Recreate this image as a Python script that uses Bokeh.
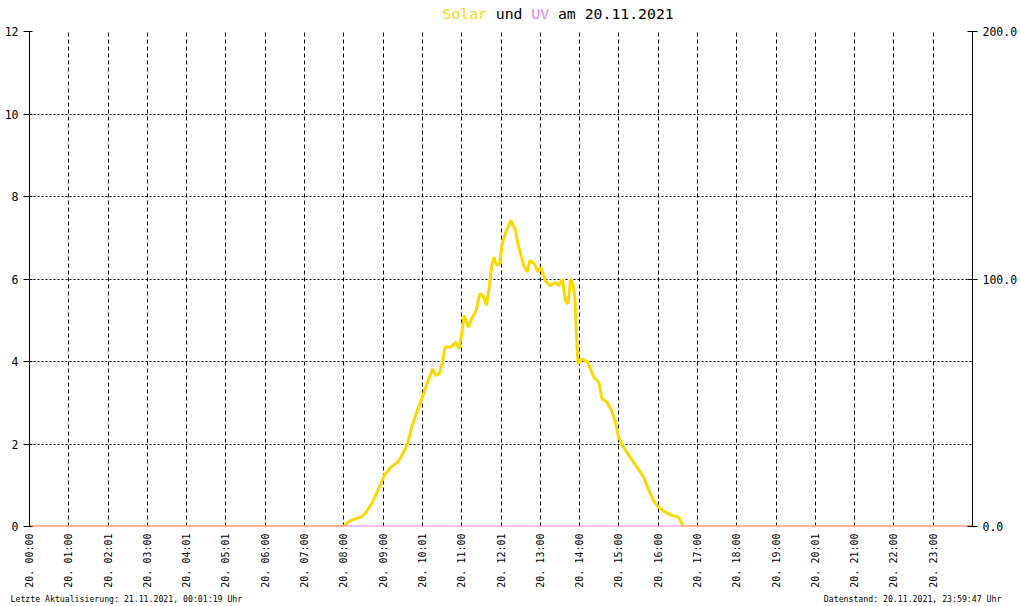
import math
from bokeh.plotting import figure
from bokeh.models import Range1d, LinearAxis, FixedTicker
from bokeh.layouts import column
from bokeh.core.properties import value
from bokeh.embed import file_html
from bokeh.resources import INLINE

# ---- data ----
tick_labels = ["20. 00:00", "20. 01:00", "20. 02:01", "20. 03:00", "20. 04:01", "20. 05:01",
               "20. 06:00", "20. 07:00", "20. 08:00", "20. 09:00", "20. 10:01", "20. 11:00",
               "20. 12:01", "20. 13:00", "20. 14:00", "20. 15:00", "20. 16:00", "20. 17:00",
               "20. 18:00", "20. 19:00", "20. 20:01", "20. 21:00", "20. 22:00", "20. 23:00"]

# time in hours of 20.11.2021
solar_time = [0.0, 7.95, 8.02, 8.14, 8.30, 8.44, 8.57, 8.73, 8.90, 9.03, 9.20, 9.37, 9.50,
              9.62, 9.73, 9.84, 10.00, 10.13, 10.26, 10.34, 10.43, 10.51, 10.58, 10.72,
              10.85, 10.93, 11.00, 11.06, 11.17, 11.27, 11.37, 11.46, 11.54, 11.63, 11.70,
              11.76, 11.82, 11.89, 11.97, 12.03, 12.12, 12.25, 12.37, 12.41, 12.50, 12.58,
              12.67, 12.73, 12.84, 12.95, 13.01, 13.13, 13.26, 13.39, 13.47, 13.56, 13.64,
              13.71, 13.77, 13.83, 13.88, 13.92, 13.96, 14.06, 14.21, 14.36, 14.49, 14.57,
              14.70, 14.82, 14.91, 14.99, 15.12, 15.29, 15.46, 15.63, 15.75, 15.88, 16.01,
              16.18, 16.35, 16.52, 16.60, 16.64, 23.996]
# solar radiation in W/m2 (right axis)
solar_wm2 = [0.0, 0.0, 0.3, 2.2, 3.2, 3.8, 5.8, 9.8, 15.8, 20.7, 24.0, 26.0, 29.3,
             33.3, 40.2, 45.5, 52.2, 58.3, 63.7, 61.0, 61.7, 66.3, 72.5, 72.5,
             74.5, 71.8, 77.8, 85.3, 80.5, 84.5, 87.3, 94.0, 93.3, 89.3, 96.7,
             104.8, 108.8, 105.5, 106.2, 114.2, 118.8, 123.7, 119.7, 115.5, 110.2, 105.5,
             102.8, 107.5, 106.2, 102.8, 104.8, 99.3, 97.3, 98.7, 97.3, 100.0, 91.3,
             90.0, 100.0, 98.0, 92.7, 77.8, 65.7, 67.7, 66.3, 60.3, 58.3, 51.7,
             50.2, 46.8, 42.2, 36.2, 32.0, 28.0, 24.0, 20.0, 15.2, 10.5, 7.8,
             5.8, 4.5, 3.8, 1.2, 0.0, 0.0]

uv_time = [0.0, 23.996]
uv_index = [0.0, 0.0]

left_ticks = [0, 2, 4, 6, 8, 10, 12]
right_ticks = [0, 100, 200]
right_tick_labels = ["0.0", "100.0", "200.0"]

title_words = ["Solar", "und", "UV", "am 20.11.2021"]
title_colors = ["#FFD700", "black", "#EE82EE", "black"]
footer_left = "Letzte Aktualisierung: 21.11.2021, 00:01:19 Uhr"
footer_right = "Datenstand: 20.11.2021, 23:59:47 Uhr"

MONO = "DejaVu Sans Mono"
W = 1020
NB = "\u00a0"

# ---- title strip (its frame is aligned with the main frame: 29 .. 975 px) ----
t_fig = figure(width=W, height=23, output_backend="svg", toolbar_location=None,
               x_range=Range1d(29, 975), y_range=Range1d(0, 23),
               x_axis_location=None, y_axis_location=None,
               min_border_left=0, min_border_right=0, min_border_top=0, min_border_bottom=0,
               background_fill_color="white", border_fill_color="white")
t_fig.outline_line_color = None
t_fig.xgrid.visible = False
t_fig.ygrid.visible = False
cw = 0.602 * 14.8
starts, pos = [], 0
for w in title_words:
    starts.append(443.3 + pos * cw)
    pos += len(w) + 1
t_fig.text(x=starts, y=[10.0] * len(title_words), text=title_words, text_color=title_colors,
           text_font=value(MONO), text_font_size=value("14.8px"),
           text_baseline="alphabetic", text_align="left")

# ---- main chart ----
p = figure(width=W, height=583, output_backend="svg", toolbar_location=None,
           x_range=Range1d(0, 24), y_range=Range1d(0, 12),
           min_border_left=29, min_border_right=45, min_border_top=8, min_border_bottom=80,
           background_fill_color="white", border_fill_color="white")
p.outline_line_color = None
p.extra_y_ranges = {"solar": Range1d(0, 200)}

xt = [int(l[4:6]) for l in tick_labels]
p.xaxis.ticker = FixedTicker(ticks=xt)
p.xaxis.major_label_overrides = {t: l for t, l in zip(xt, tick_labels)}
p.xaxis.major_label_orientation = math.pi / 2
p.xaxis.major_label_text_font = MONO
p.xaxis.major_label_text_font_size = "10px"
p.xaxis.major_label_text_color = "black"
p.xaxis.major_label_standoff = 7
p.xaxis.major_tick_out = 0
p.xaxis.major_tick_in = 0
p.xaxis.minor_tick_out = 0
p.xaxis.minor_tick_in = 0
p.xaxis.axis_line_color = None
# footer line (left and right part) as the x axis label
p.xaxis.axis_label = NB * 2 + footer_left + NB * 118 + footer_right
p.xaxis.axis_label_text_font = MONO
p.xaxis.axis_label_text_font_size = "8.2px"
p.xaxis.axis_label_text_font_style = "normal"
p.xaxis.axis_label_text_color = "black"
p.xaxis.axis_label_standoff = 3

p.yaxis.ticker = FixedTicker(ticks=left_ticks)
p.yaxis.major_label_text_font = MONO
p.yaxis.major_label_text_font_size = "11.5px"
p.yaxis.major_label_text_color = "black"
p.yaxis.major_label_standoff = 5
p.yaxis.major_tick_out = 6
p.yaxis.major_tick_in = 3
p.yaxis.minor_tick_out = 0
p.yaxis.minor_tick_in = 0
p.yaxis.axis_line_color = "black"

rax = LinearAxis(y_range_name="solar", ticker=FixedTicker(ticks=right_ticks))
rax.major_label_overrides = {t: l for t, l in zip(right_ticks, right_tick_labels)}
rax.major_label_text_font = MONO
rax.major_label_text_font_size = "11.5px"
rax.major_label_text_color = "black"
rax.major_label_standoff = 5
rax.major_tick_out = 5
rax.major_tick_in = 5
rax.minor_tick_out = 0
rax.minor_tick_in = 0
rax.axis_line_color = "black"
p.add_layout(rax, "right")

p.xgrid.grid_line_color = "black"
p.xgrid.grid_line_dash = "4 3"
p.xgrid.grid_line_width = 1
p.ygrid.grid_line_color = "black"
p.ygrid.grid_line_dash = "2 2"
p.ygrid.grid_line_width = 1

p.line(solar_time, solar_wm2, y_range_name="solar", line_color="#FFD700", line_width=3)
p.line(uv_time, uv_index, line_color="#EE82EE", line_width=2)

layout = column(t_fig, p, spacing=0)
open("out.html", "w").write(file_html(layout, INLINE))
